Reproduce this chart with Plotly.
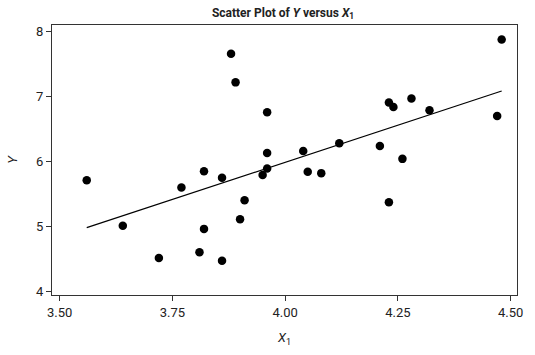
import numpy as np
import plotly.graph_objects as go

x1 = [3.56, 3.64, 3.72, 3.77, 3.81, 3.82, 3.82, 3.86, 3.86, 3.88,
      3.89, 3.90, 3.91, 3.95, 3.96, 3.96, 3.96, 4.04, 4.05, 4.08,
      4.12, 4.21, 4.26, 4.23, 4.24, 4.28, 4.32, 4.23, 4.47, 4.48]
y = [5.71, 5.01, 4.51, 5.60, 4.60, 5.85, 4.96, 4.47, 5.75, 7.66,
     7.22, 5.11, 5.40, 5.79, 6.13, 6.76, 5.89, 6.16, 5.84, 5.82,
     6.28, 6.24, 6.04, 6.91, 6.84, 6.97, 6.79, 5.37, 6.70, 7.88]
x_ticks = [3.50, 3.75, 4.00, 4.25, 4.50]
y_ticks = [4, 5, 6, 7, 8]

slope, intercept = np.polyfit(x1, y, 1)
lx = np.array([min(x1), max(x1)])
ly = intercept + slope * lx

FONT = "Roboto, Liberation Sans, sans-serif"

fig = go.Figure()
fig.add_trace(go.Scatter(x=lx, y=ly, mode="lines",
                         line=dict(color="black", width=1.2),
                         hoverinfo="skip", showlegend=False))
fig.add_trace(go.Scatter(x=x1, y=y, mode="markers",
                         marker=dict(color="black", size=8.5),
                         showlegend=False))

axis_common = dict(showgrid=False, zeroline=False, showline=True,
                   linecolor="#333333", linewidth=1, mirror=True,
                   ticks="outside", ticklen=5, tickcolor="#333333",
                   tickfont=dict(family=FONT, size=13, color="#222222"))

fig.update_layout(
    width=535, height=355,
    margin=dict(l=49, r=18, t=25, b=53),
    paper_bgcolor="white", plot_bgcolor="white",
    font=dict(family=FONT, color="#222222"),
    title=dict(text="<b>Scatter Plot of <i>Y</i> versus <i>X</i><sub>1</sub></b>",
               x=0.529, xanchor="center", y=0.965, yanchor="middle",
               font=dict(family=FONT, size=12, color="#222222")),
    xaxis=dict(range=[3.483, 4.514], tickvals=x_ticks,
               ticktext=[f"{v:.2f}" for v in x_ticks],
               title=dict(text="<i>X</i><sub>1</sub>", standoff=14,
                          font=dict(family=FONT, size=13, color="#222222")),
               **axis_common),
    yaxis=dict(range=[3.94, 8.105], tickvals=y_ticks,
               ticktext=[str(v) for v in y_ticks],
               title=dict(text="<i>Y</i>", standoff=15,
                          font=dict(family=FONT, size=13, color="#222222")),
               **axis_common),
)

fig.write_html("out.html",
               config={"displayModeBar": False},
               post_script="document.body.style.margin='0';")
